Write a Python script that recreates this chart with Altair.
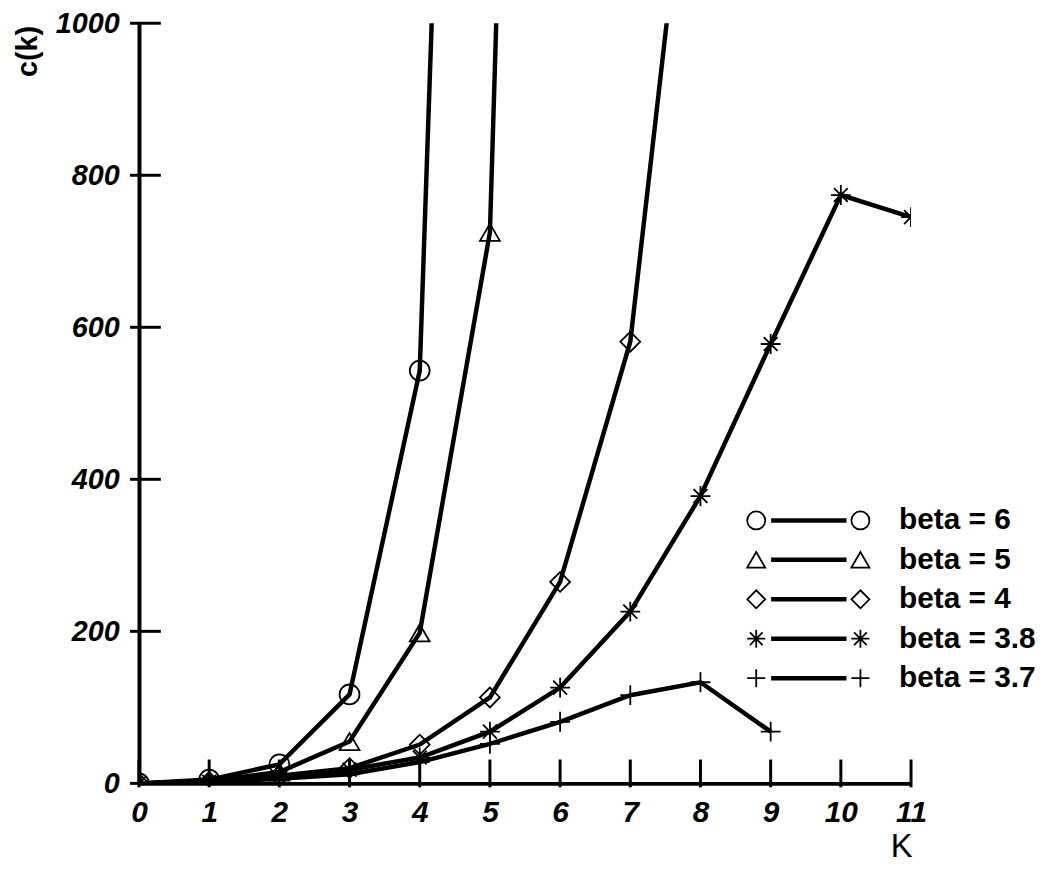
import altair as alt
import pandas as pd

# ---- data ----
series = ["beta = 6", "beta = 5", "beta = 4", "beta = 3.8", "beta = 3.7"]

k_b6 = [0, 1, 2, 3, 4, 5]
c_b6 = [0, 5, 25, 117, 543, 3230]

k_b5 = [0, 1, 2, 3, 4, 5, 6]
c_b5 = [0, 3, 15, 55, 198, 725, 3780]

k_b4 = [0, 1, 2, 3, 4, 5, 6, 7, 8]
c_b4 = [0, 2, 10, 20, 51, 113, 265, 581, 1390]

k_b38 = [0, 1, 2, 3, 4, 5, 6, 7, 8, 9, 10, 11]
c_b38 = [0, 2, 8, 18, 34, 68, 126, 226, 378, 578, 774, 745]

k_b37 = [0, 1, 2, 3, 4, 5, 6, 7, 8, 9]
c_b37 = [0, 2, 6, 12, 28, 52, 81, 116, 133, 68]

x_ticks = [0, 1, 2, 3, 4, 5, 6, 7, 8, 9, 10, 11]
y_ticks = [0, 200, 400, 600, 800, 1000]

# ---- build tables ----
rows = []
for name, ks, cs in zip(series, [k_b6, k_b5, k_b4, k_b38, k_b37],
                        [c_b6, c_b5, c_b4, c_b38, c_b37]):
    for k, c in zip(ks, cs):
        rows.append({"series": name, "k": k, "c": c})
df = pd.DataFrame(rows)
leg_df = pd.DataFrame({"series": series, "row": list(range(len(series)))})
xt_df = pd.DataFrame({"v": x_ticks})
yt_df = pd.DataFrame({"v": y_ticks})

F = "Liberation Sans"
STAR = "M-1,0L1,0M0,-1L0,1M-0.7,-0.7L0.7,0.7M-0.7,0.7L0.7,-0.7"
PLUS = "M-1,0L1,0M0,-1L0,1"
shape_scale = alt.Scale(domain=series, range=["circle", "triangle-up", "diamond", STAR, PLUS])

xscale = alt.Scale(domain=[0, 11], nice=False, zero=False)
yscale = alt.Scale(domain=[0, 1000], nice=False)

xaxis = alt.Axis(values=x_ticks, format="d", title="K", ticks=False, grid=False,
                 domainWidth=4, domainColor="black",
                 labelFont=F, labelFontSize=30, labelFontStyle="italic",
                 labelFontWeight="bold", labelColor="black", labelPadding=14,
                 labelFlush=False, labelOverlap=False,
                 titleFont=F, titleFontSize=33, titleFontWeight="normal",
                 titleColor="black", titleX=768, titleY=64,
                 titleAlign="center", titleBaseline="middle")
yaxis = alt.Axis(values=y_ticks, format="d", title="c(k)", ticks=False, grid=False,
                 domainWidth=4, domainColor="black",
                 labelFont=F, labelFontSize=29, labelFontStyle="italic",
                 labelFontWeight="bold", labelColor="black", labelPadding=20,
                 labelFlush=False, labelOverlap=False,
                 titleFont=F, titleFontSize=29, titleFontWeight="bold",
                 titleColor="black", titleAngle=270, titleX=-112, titleY=28,
                 titleAlign="center", titleBaseline="middle")

X = alt.X("k:Q", scale=xscale, axis=xaxis)
Y = alt.Y("c:Q", scale=yscale, axis=yaxis)

lines = alt.Chart(df).mark_line(color="black", strokeWidth=4.5, clip=True).encode(
    x=X, y=Y, detail="series:N", order="k:Q")
points = alt.Chart(df).mark_point(filled=False, color="black", strokeWidth=1.8,
                                  size=400, opacity=1, clip=True).encode(
    x=X, y=Y, shape=alt.Shape("series:N", scale=shape_scale, legend=None))

ytick = alt.Chart(yt_df).mark_rule(color="black", strokeWidth=3).encode(
    y=alt.Y("v:Q", scale=yscale, axis=yaxis), x=alt.value(-9), x2=alt.value(22))
xtick = alt.Chart(xt_df).mark_rule(color="black", strokeWidth=3).encode(
    x=alt.X("v:Q", scale=xscale, axis=xaxis), y=alt.value(742), y2=alt.value(770))

main = alt.layer(ytick, xtick, lines, points)

# ---- hand-made legend ----
LY = alt.Y("row:Q", scale=alt.Scale(domain=[0, 4], range=[501, 660]), axis=None)
leg_line = alt.Chart(leg_df).mark_rule(color="black", strokeWidth=4.5).encode(
    y=LY, x=alt.value(637), x2=alt.value(713))
leg_l = alt.Chart(leg_df).mark_point(filled=False, color="black", strokeWidth=1.8,
                                     size=330, opacity=1).encode(
    y=LY, x=alt.value(622), shape=alt.Shape("series:N", scale=shape_scale, legend=None))
leg_r = alt.Chart(leg_df).mark_point(filled=False, color="black", strokeWidth=1.8,
                                     size=330, opacity=1).encode(
    y=LY, x=alt.value(727), shape=alt.Shape("series:N", scale=shape_scale, legend=None))
leg_t = alt.Chart(leg_df).mark_text(align="left", baseline="middle", font=F,
                                    fontSize=30, fontWeight="bold", color="black").encode(
    y=LY, x=alt.value(766), text="series:N")
legend = alt.layer(leg_line, leg_l, leg_r, leg_t)

chart = alt.layer(main, legend).resolve_scale(y="independent").properties(
    width=778, height=766,
    background="white",
    autosize=alt.AutoSizeParams(type="none"),
    padding={"left": 132, "top": 12, "right": 134, "bottom": 90},
).configure_view(strokeWidth=0, stroke="transparent")

chart.save("out.html", embed_options={"renderer": "svg", "actions": False})
